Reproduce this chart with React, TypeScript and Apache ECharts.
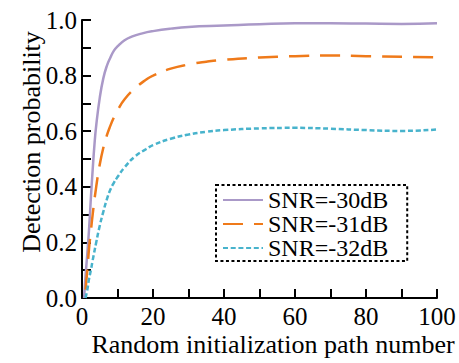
import React, { useEffect, useRef } from "react";
import * as echarts from "echarts";

const seriesNames = ["SNR=-30dB", "SNR=-31dB", "SNR=-32dB"];
const snr30: [number, number][] = [
  [0.6, 0], [1, 0.08], [1.5, 0.16], [2, 0.25], [2.5, 0.36], [3, 0.46], [3.5, 0.55], [4, 0.62],
  [5, 0.72], [6, 0.79], [7, 0.835], [8, 0.865], [9, 0.89], [10, 0.905], [12, 0.927], [14, 0.94],
  [17, 0.952], [20, 0.96], [25, 0.969], [30, 0.975], [40, 0.98], [50, 0.985], [60, 0.988],
  [70, 0.988], [80, 0.987], [90, 0.986], [100, 0.988],
];
const snr31: [number, number][] = [
  [1, 0.03], [1.5, 0.1], [2, 0.18], [2.5, 0.24], [3, 0.3], [4, 0.4], [5, 0.48], [6, 0.54], [7, 0.585],
  [8, 0.62], [9, 0.65], [10, 0.675], [12, 0.715], [15, 0.755], [18, 0.785], [20, 0.8], [25, 0.825],
  [30, 0.84], [35, 0.85], [40, 0.857], [50, 0.865], [60, 0.87], [70, 0.872], [80, 0.87], [90, 0.868],
  [100, 0.866],
];
const snr32: [number, number][] = [
  [1, 0], [1.5, 0.03], [2, 0.07], [2.5, 0.1], [3, 0.135], [4, 0.2], [5, 0.26], [6, 0.31], [7, 0.355],
  [8, 0.39], [9, 0.415], [10, 0.435], [12, 0.47], [15, 0.51], [18, 0.535], [20, 0.55], [25, 0.573],
  [30, 0.588], [35, 0.598], [40, 0.604], [50, 0.61], [60, 0.612], [70, 0.609], [80, 0.604],
  [90, 0.601], [100, 0.606],
];
const xTitle = "Random initialization path number";
const yTitle = "Detection probability";

const FONT = "Liberation Serif";

export default function App() {
  const ref = useRef<HTMLDivElement>(null);
  useEffect(() => {
    if (!ref.current) return;
    const chart = echarts.init(ref.current, undefined, { renderer: "svg" });
    const axisCommon = {
      axisLine: { show: true, lineStyle: { color: "#000", width: 2 } },
      axisTick: { show: true, inside: true, length: 9, lineStyle: { color: "#000", width: 2 } },
      minorTick: { show: true, splitNumber: 2, length: 9, lineStyle: { color: "#000", width: 2 } },
      splitLine: { show: false },
      minorSplitLine: { show: false },
      axisLabel: { color: "#000", fontFamily: FONT, fontSize: 25 },
    };
    chart.setOption({
      animation: false,
      textStyle: { fontFamily: FONT },
      grid: { left: 82, right: 22, top: 20, bottom: 65, containLabel: false },
      xAxis: {
        type: "value",
        min: 0,
        max: 100,
        interval: 20,
        ...axisCommon,
        axisLabel: { ...axisCommon.axisLabel, margin: 6 },
      },
      yAxis: {
        type: "value",
        min: 0,
        max: 1,
        interval: 0.2,
        ...axisCommon,
        axisLabel: { ...axisCommon.axisLabel, margin: 5, formatter: (v: number) => v.toFixed(1) },
      },
      legend: {
        show: true,
        orient: "vertical",
        left: 216,
        top: 185,
        padding: [3, 19, 1, 6],
        itemGap: 0,
        itemWidth: 40,
        itemHeight: 12,
        borderColor: "#000",
        borderWidth: 2,
        borderType: [3, 2.5],
        backgroundColor: "#fff",
        itemStyle: { opacity: 0 },
        textStyle: { color: "#000", fontFamily: FONT, fontSize: 24, lineHeight: 24 },
        data: seriesNames,
      },
      series: [
        {
          name: seriesNames[0], type: "line", data: snr30, smooth: true, symbol: "none",
          lineStyle: { color: "#aa99c8", width: 2.5, type: "solid" }, itemStyle: { color: "#aa99c8" },
        },
        {
          name: seriesNames[1], type: "line", data: snr31, smooth: true, symbol: "none",
          lineStyle: { color: "#ef7a1a", width: 2.5, type: [20, 11] }, itemStyle: { color: "#ef7a1a" },
        },
        {
          name: seriesNames[2], type: "line", data: snr32, smooth: true, symbol: "none",
          lineStyle: { color: "#48b3cc", width: 2.5, type: [5, 2.7] }, itemStyle: { color: "#48b3cc" },
        },
      ],
      graphic: [
        {
          type: "text", x: 273, y: 357,
          style: { text: xTitle, fill: "#000", fontFamily: FONT, fontSize: 26, textAlign: "center", textVerticalAlign: "bottom" },
        },
        {
          type: "text", x: 31, y: 142, rotation: Math.PI / 2,
          style: { text: yTitle, fill: "#000", fontFamily: FONT, fontSize: 26, textAlign: "center", textVerticalAlign: "middle" },
        },
      ],
    });
    return () => chart.dispose();
  }, []);
  return <div ref={ref} style={{ position: "absolute", left: 0, top: 0, width: 459, height: 363 }} />;
}
